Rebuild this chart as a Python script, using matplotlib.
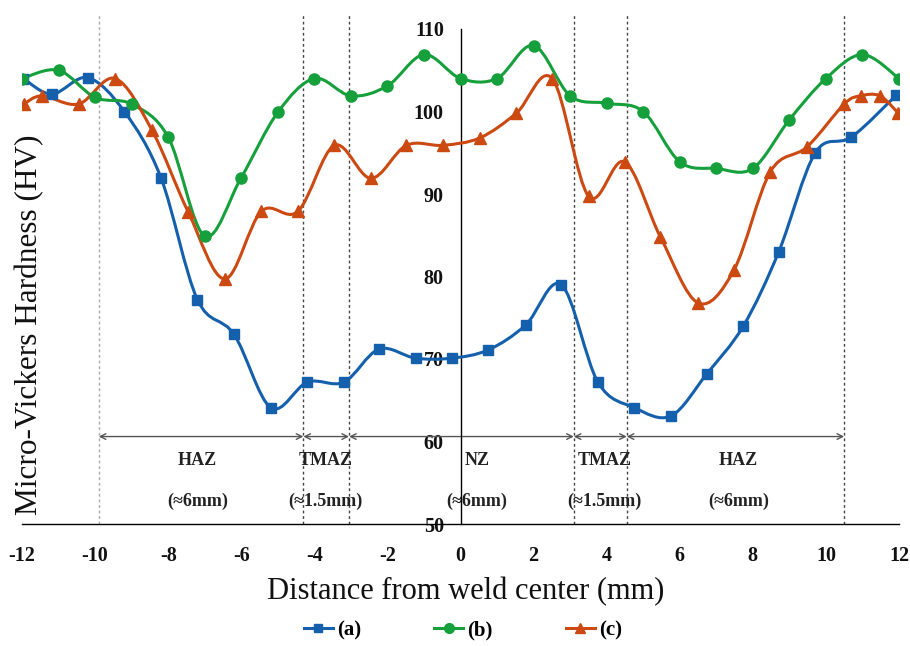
import numpy as np
import matplotlib
matplotlib.use("Agg")
import matplotlib.pyplot as plt
from matplotlib.path import Path
from matplotlib.patches import PathPatch
from matplotlib.lines import Line2D

# ---------------- data ----------------
x_a = [-11.96, -11.18, -10.2, -9.2, -8.2, -7.2, -6.2, -5.19, -4.19, -3.19, -2.23, -1.23,
       -0.24, 0.76, 1.78, 2.76, 3.76, 4.76, 5.76, 6.74, 7.74, 8.71, 9.71, 10.7, 11.93]
y_a = [104.0, 102.1, 104.1, 100.0, 92.0, 77.2, 73.0, 64.1, 67.2, 67.2, 71.2, 70.1,
       70.1, 71.1, 74.1, 79.0, 67.2, 64.1, 63.1, 68.2, 74.0, 83.0, 95.0, 96.9, 102.0]

x_b = [-12, -11, -10, -9, -8, -7, -6, -5, -4, -3, -2, -1, 0, 1, 2, 3, 4, 5, 6, 7, 8, 9, 10, 11, 12]
y_b = [104.0, 105.0, 101.7, 100.9, 96.9, 84.9, 92.0, 99.9, 104.0, 101.9, 103.1, 106.9,
       104.0, 104.0, 108.0, 101.9, 101.0, 100.0, 93.9, 93.1, 93.1, 99.0, 104.0, 106.9, 104.0]

x_c = [-11.95, -11.45, -10.45, -9.45, -8.45, -7.45, -6.45, -5.45, -4.45, -3.45, -2.45, -1.48,
       -0.48, 0.53, 1.53, 2.51, 3.51, 4.49, 5.47, 6.5, 7.48, 8.48, 9.48, 10.5, 10.95, 11.48, 11.98]
y_c = [100.9, 101.9, 100.9, 104.0, 97.8, 87.8, 79.7, 87.9, 87.9, 95.9, 91.9, 95.9,
       95.9, 96.8, 99.8, 104.0, 89.7, 93.9, 84.8, 76.8, 80.75, 92.7, 95.7, 100.9, 101.9, 101.9, 99.8]

series_labels = ["(a)", "(b)", "(c)"]
zone_bounds = [-9.9, -4.3, -3.05, 3.1, 4.55, 10.5]
zone_names = ["HAZ", "TMAZ", "NZ", "TMAZ", "HAZ"]
zone_widths = ["(\u22486mm)", "(\u22481.5mm)", "(\u22486mm)", "(\u22481.5mm)", "(\u22486mm)"]
zone_text_x = [-7.2, -3.7, 0.45, 3.95, 7.6]
xticks = list(range(-12, 13, 2))
yticks = [50, 60, 70, 80, 90, 100, 110]

# ---------------- style ----------------
SERIF = ["Liberation Serif", "DejaVu Serif"]
plt.rcParams['font.family'] = SERIF
col_a, col_b, col_c = "#1560ad", "#16a03c", "#cc4a12"

fig = plt.figure(figsize=(9.10, 6.46), dpi=100)
ax = fig.add_axes([22/910, (646-524)/646, 877/910, (524-29)/646])
ax.set_xlim(-12, 12)
ax.set_ylim(50, 110)


def smooth_path(xs, ys):
    pts = np.column_stack([xs, ys]).astype(float)
    n = len(pts)
    verts = [pts[0]]
    codes = [Path.MOVETO]
    for i in range(n - 1):
        p0 = pts[i - 1] if i > 0 else pts[i]
        p1 = pts[i]
        p2 = pts[i + 1]
        p3 = pts[i + 2] if i + 2 < n else pts[i + 1]
        c1 = p1 + (p2 - p0) / 6.0
        c2 = p2 - (p3 - p1) / 6.0
        verts += [c1, c2, p2]
        codes += [Path.CURVE4] * 3
    return Path(verts, codes)


for xs, ys, col, mk, ms in [(x_a, y_a, col_a, 's', 7), (x_b, y_b, col_b, 'o', 8), (x_c, y_c, col_c, '^', 8)]:
    ax.add_patch(PathPatch(smooth_path(xs, ys), facecolor='none', edgecolor=col, lw=2.2, zorder=3))
    ax.plot(xs, ys, linestyle='none', marker=mk, markersize=ms, color=col, zorder=4)

# zone lines
for i, xb in enumerate(zone_bounds):
    c = "#aaaaaa" if i == 0 else "#444444"
    ax.plot([xb, xb], [50, 112], linestyle=(0, (2, 2)), color=c, lw=1.0, clip_on=False, zorder=1)

# arrows
for i in range(len(zone_bounds) - 1):
    ax.annotate("", xy=(zone_bounds[i + 1], 60.6), xytext=(zone_bounds[i], 60.6),
                arrowprops=dict(arrowstyle="<->", color="#555555", lw=1.0,
                                shrinkA=0, shrinkB=0, mutation_scale=10), zorder=2)
for name, w, tx in zip(zone_names, zone_widths, zone_text_x):
    ax.text(tx, 57.7, name, ha='center', va='center', fontsize=13, fontweight='bold', color='#222222')
    ax.text(tx, 52.7, w, ha='center', va='center', fontsize=13, fontweight='bold', color='#222222')

# spines
for s in ['top', 'right']:
    ax.spines[s].set_visible(False)
ax.spines['left'].set_position(('data', 0))
ax.spines['left'].set_linewidth(1.0)
ax.spines['bottom'].set_linewidth(1.0)
ax.set_xticks(xticks)
ax.set_xticklabels([str(v) for v in xticks])
ax.set_yticks(yticks)
ax.set_yticklabels([str(v) for v in yticks])
ax.tick_params(axis='both', length=0, labelsize=14.5, colors='#111111')
ax.tick_params(axis='y', pad=12)
ax.tick_params(axis='x', pad=16)
for lab in ax.get_xticklabels() + ax.get_yticklabels():
    lab.set_fontweight('bold')

fig.text(30/910, 1 - 325/646, "Micro-Vickers Hardness (HV)", rotation=90, ha='center', va='center',
         fontsize=22.5, color='#111111')
fig.text(466/910, 1 - 592/646, "Distance from weld center (mm)", ha='center', va='center',
         fontsize=22, color='#111111')

handles = [Line2D([], [], color=col_a, marker='s', lw=2.2, ms=6),
           Line2D([], [], color=col_b, marker='o', lw=2.2, ms=7),
           Line2D([], [], color=col_c, marker='^', lw=2.2, ms=7)]
leg = fig.legend(handles, series_labels, loc='center', bbox_to_anchor=(463/910, 1 - 630/646), ncol=3,
                 frameon=False, prop=dict(family=SERIF, weight='bold', size=15), handlelength=1.4,
                 handletextpad=0.2, columnspacing=3.5)

fig.savefig("out.png", dpi=100)
